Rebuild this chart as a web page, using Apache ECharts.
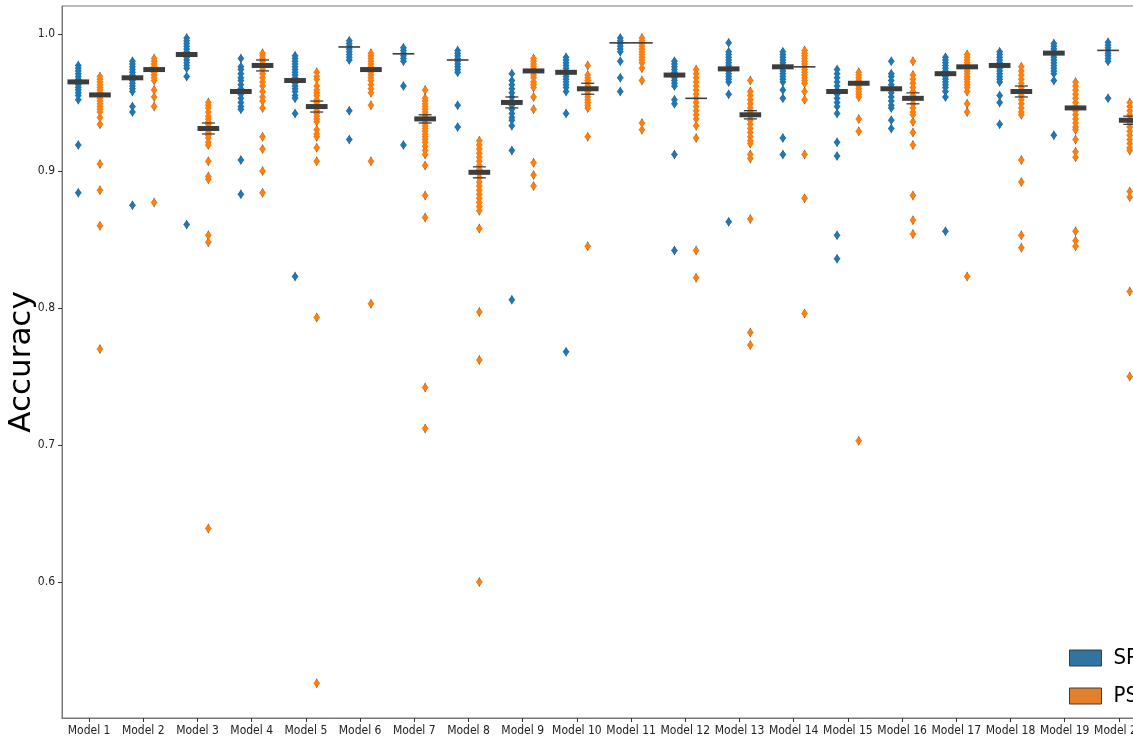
<!DOCTYPE html>
<html>
<head>
<meta charset="utf-8">
<script src="https://cdn.jsdelivr.net/npm/echarts@6/dist/echarts.min.js"></script>
<style>
  html, body { margin: 0; padding: 0; background: #fff; }
  #chart { width: 1133px; height: 739px; }
</style>
</head>
<body>
<div id="chart"></div>
<script>
// categories
const models = ['Model 1', 'Model 2', 'Model 3', 'Model 4', 'Model 5', 'Model 6', 'Model 7', 'Model 8', 'Model 9', 'Model 10',
  'Model 11', 'Model 12', 'Model 13', 'Model 14', 'Model 15', 'Model 16', 'Model 17', 'Model 18', 'Model 19', 'Model 20']
const yTicks = [0.6, 0.7, 0.8, 0.9, 1.0]

// SP accuracies per model
const spPoints = [
  [0.977, 0.975, 0.973, 0.971, 0.969, 0.967, 0.965, 0.963, 0.961, 0.959, 0.957, 0.955, 0.952, 0.919, 0.884],
  [0.980, 0.978, 0.976, 0.974, 0.972, 0.970, 0.968, 0.966, 0.964, 0.962, 0.960, 0.958, 0.947, 0.943, 0.875],
  [0.997, 0.995, 0.993, 0.991, 0.989, 0.987, 0.985, 0.983, 0.981, 0.979, 0.977, 0.975, 0.969, 0.861],
  [0.982, 0.976, 0.974, 0.971, 0.968, 0.966, 0.963, 0.960, 0.958, 0.956, 0.953, 0.950, 0.947, 0.945, 0.908, 0.883],
  [0.984, 0.982, 0.980, 0.978, 0.976, 0.974, 0.972, 0.970, 0.968, 0.966, 0.964, 0.962, 0.960, 0.958, 0.955, 0.953, 0.942, 0.823],
  [0.995, 0.993, 0.991, 0.989, 0.987, 0.985, 0.983, 0.981, 0.944, 0.923],
  [0.990, 0.988, 0.986, 0.984, 0.982, 0.980, 0.962, 0.919],
  [0.988, 0.986, 0.984, 0.982, 0.980, 0.978, 0.976, 0.974, 0.972, 0.948, 0.932],
  [0.971, 0.966, 0.963, 0.960, 0.957, 0.954, 0.951, 0.948, 0.945, 0.942, 0.939, 0.937, 0.933, 0.915, 0.806],
  [0.983, 0.981, 0.979, 0.977, 0.975, 0.973, 0.971, 0.969, 0.967, 0.965, 0.963, 0.961, 0.958, 0.942, 0.768],
  [0.997, 0.995, 0.993, 0.991, 0.989, 0.987, 0.980, 0.968, 0.958],
  [0.980, 0.978, 0.976, 0.974, 0.972, 0.970, 0.968, 0.966, 0.964, 0.962, 0.952, 0.949, 0.912, 0.842],
  [0.9935, 0.987, 0.985, 0.983, 0.981, 0.979, 0.977, 0.975, 0.973, 0.971, 0.969, 0.967, 0.965, 0.956, 0.863],
  [0.987, 0.985, 0.983, 0.981, 0.979, 0.977, 0.975, 0.973, 0.971, 0.969, 0.967, 0.965, 0.959, 0.953, 0.924, 0.912],
  [0.974, 0.971, 0.968, 0.965, 0.962, 0.959, 0.956, 0.953, 0.950, 0.947, 0.942, 0.921, 0.911, 0.853, 0.836],
  [0.980, 0.971, 0.969, 0.966, 0.963, 0.960, 0.957, 0.954, 0.951, 0.948, 0.946, 0.937, 0.931],
  [0.983, 0.981, 0.979, 0.977, 0.975, 0.973, 0.971, 0.969, 0.967, 0.965, 0.963, 0.961, 0.958, 0.954, 0.856],
  [0.987, 0.985, 0.983, 0.981, 0.979, 0.977, 0.975, 0.973, 0.971, 0.969, 0.967, 0.965, 0.955, 0.950, 0.934],
  [0.993, 0.991, 0.989, 0.987, 0.985, 0.983, 0.981, 0.979, 0.977, 0.975, 0.973, 0.971, 0.966, 0.926],
  [0.994, 0.992, 0.990, 0.988, 0.986, 0.984, 0.982, 0.980, 0.953]
]

// PS accuracies per model
const psPoints = [
  [0.969, 0.967, 0.965, 0.963, 0.961, 0.959, 0.957, 0.955, 0.953, 0.951, 0.949, 0.947, 0.945, 0.943, 0.939, 0.934, 0.905, 0.886, 0.860, 0.770],
  [0.982, 0.980, 0.978, 0.976, 0.974, 0.972, 0.970, 0.968, 0.966, 0.959, 0.954, 0.947, 0.877],
  [0.950, 0.948, 0.946, 0.943, 0.940, 0.938, 0.936, 0.934, 0.932, 0.930, 0.928, 0.926, 0.924, 0.921, 0.919, 0.907, 0.896, 0.894, 0.853, 0.848, 0.639],
  [0.986, 0.984, 0.982, 0.980, 0.978, 0.976, 0.974, 0.971, 0.968, 0.965, 0.962, 0.958, 0.954, 0.951, 0.946, 0.925, 0.916, 0.900, 0.884],
  [0.972, 0.969, 0.967, 0.962, 0.959, 0.957, 0.955, 0.952, 0.950, 0.948, 0.946, 0.944, 0.942, 0.940, 0.938, 0.936, 0.930, 0.927, 0.925, 0.917, 0.907, 0.793, 0.526],
  [0.986, 0.984, 0.982, 0.980, 0.978, 0.976, 0.974, 0.972, 0.970, 0.968, 0.966, 0.963, 0.960, 0.957, 0.948, 0.907, 0.803],
  [0.959, 0.953, 0.951, 0.949, 0.947, 0.945, 0.943, 0.941, 0.939, 0.937, 0.935, 0.933, 0.931, 0.929, 0.927, 0.925, 0.923, 0.921, 0.918, 0.915, 0.912, 0.904, 0.882, 0.866, 0.742, 0.712],
  [0.922, 0.919, 0.916, 0.913, 0.910, 0.907, 0.904, 0.901, 0.898, 0.895, 0.892, 0.889, 0.886, 0.883, 0.880, 0.877, 0.874, 0.871, 0.858, 0.797, 0.762, 0.600],
  [0.982, 0.980, 0.978, 0.976, 0.974, 0.972, 0.970, 0.968, 0.965, 0.963, 0.961, 0.954, 0.945, 0.906, 0.897, 0.889],
  [0.977, 0.970, 0.968, 0.966, 0.964, 0.962, 0.960, 0.958, 0.956, 0.954, 0.952, 0.950, 0.948, 0.946, 0.925, 0.845],
  [0.997, 0.995, 0.993, 0.991, 0.989, 0.987, 0.985, 0.983, 0.981, 0.979, 0.975, 0.966, 0.935, 0.930],
  [0.974, 0.971, 0.968, 0.965, 0.962, 0.959, 0.956, 0.953, 0.950, 0.947, 0.944, 0.941, 0.938, 0.933, 0.924, 0.842, 0.822],
  [0.966, 0.958, 0.955, 0.952, 0.949, 0.946, 0.943, 0.940, 0.937, 0.934, 0.931, 0.928, 0.925, 0.922, 0.920, 0.912, 0.909, 0.865, 0.782, 0.773],
  [0.988, 0.986, 0.984, 0.982, 0.980, 0.978, 0.976, 0.974, 0.972, 0.970, 0.968, 0.966, 0.964, 0.958, 0.952, 0.912, 0.880, 0.796],
  [0.972, 0.970, 0.968, 0.966, 0.964, 0.962, 0.960, 0.958, 0.956, 0.954, 0.938, 0.929, 0.703],
  [0.980, 0.970, 0.967, 0.964, 0.961, 0.958, 0.955, 0.952, 0.949, 0.946, 0.943, 0.941, 0.936, 0.928, 0.919, 0.882, 0.864, 0.854],
  [0.985, 0.983, 0.981, 0.979, 0.977, 0.975, 0.973, 0.971, 0.969, 0.967, 0.965, 0.963, 0.961, 0.958, 0.949, 0.943, 0.823],
  [0.976, 0.973, 0.970, 0.967, 0.964, 0.961, 0.958, 0.955, 0.952, 0.949, 0.946, 0.943, 0.941, 0.908, 0.892, 0.853, 0.844],
  [0.965, 0.962, 0.959, 0.956, 0.953, 0.950, 0.947, 0.944, 0.941, 0.938, 0.935, 0.932, 0.930, 0.923, 0.914, 0.910, 0.856, 0.849, 0.845],
  [0.950, 0.947, 0.944, 0.941, 0.938, 0.935, 0.932, 0.929, 0.926, 0.923, 0.920, 0.917, 0.915, 0.885, 0.881, 0.812, 0.750]
]

// medians, whether the central box is visible as a thick bar, and the next letter-value edges
const spMedian = [0.965, 0.968, 0.985, 0.958, 0.966, 0.9905, 0.9855, 0.981, 0.950, 0.972,
  0.9935, 0.970, 0.9745, 0.976, 0.958, 0.960, 0.971, 0.977, 0.986, 0.988]
const psMedian = [0.9555, 0.974, 0.931, 0.977, 0.947, 0.974, 0.938, 0.899, 0.973, 0.960,
  0.9935, 0.953, 0.941, 0.976, 0.964, 0.953, 0.976, 0.958, 0.946, 0.937]
const spThick = [1, 1, 1, 1, 1, 0, 0, 0, 1, 1, 0, 1, 1, 1, 1, 1, 1, 1, 1, 0]
const psThick = [1, 1, 1, 1, 1, 1, 1, 1, 1, 1, 0, 0, 1, 0, 1, 1, 1, 1, 1, 1]
const spLevel = [null, null, null, null, null, null, null, null, [0.954, 0.946], null,
  null, null, null, null, null, null, null, null, null, null]
const psLevel = [null, null, [0.935, 0.927], [0.981, 0.973], [0.951, 0.943], null, [0.941, 0.935], [0.903, 0.895], null, [0.964, 0.956],
  null, null, [0.944, 0.938], null, null, [0.957, 0.949], null, [0.962, 0.954], null, [0.940, 0.934]]

const SP_COLOR = '#1f77b4'
const PS_COLOR = '#ff7f0e'
const EDGE = '#3d3d3d'
const HUE_OFFSET = 0.2
const TICK_FONT = '"DejaVu Sans Condensed", "DejaVu Sans", sans-serif'

const toPoints = (groups, off) => {
  const out = []
  groups.forEach((vals, i) => vals.forEach(v => out.push([i + off, v])))
  return out
}
const toBoxes = (med, thick, level, off) => med.map((m, i) => [
  i + off, m, thick[i], level[i] ? level[i][0] : NaN, level[i] ? level[i][1] : NaN
])

const renderBox = (params, api) => {
  const c = api.coord([api.value(0), api.value(1)])
  const halfW = api.size([0.4, 0])[0] / 2
  const children = []
  if (api.value(2)) {
    children.push({ type: 'rect', shape: { x: c[0] - halfW, y: c[1] - 2.5, width: halfW * 2, height: 5 }, style: { fill: EDGE } })
  } else {
    children.push({ type: 'line', shape: { x1: c[0] - halfW, y1: c[1], x2: c[0] + halfW, y2: c[1] }, style: { stroke: EDGE, lineWidth: 1.6 } })
  }
  const hi = api.value(3), lo = api.value(4)
  if (!isNaN(hi)) {
    [hi, lo].forEach(v => {
      const p = api.coord([api.value(0), v])
      children.push({ type: 'line', shape: { x1: p[0] - halfW * 0.6, y1: p[1], x2: p[0] + halfW * 0.6, y2: p[1] }, style: { stroke: EDGE, lineWidth: 1.3 } })
    })
  }
  return { type: 'group', children }
}

const chart = echarts.init(document.getElementById('chart'), null, { renderer: 'canvas' })

const pointSeries = (name, data, color) => [
  {
    name: name + '_edge', type: 'scatter', data, symbol: 'diamond', symbolSize: [5, 10],
    itemStyle: { color: EDGE, opacity: 1 }, z: 2, silent: true
  },
  {
    name, type: 'scatter', data, symbol: 'diamond', symbolSize: [7, 8],
    itemStyle: { color, opacity: 1 }, z: 3
  }
]

chart.setOption({
  animation: false,
  textStyle: { fontFamily: 'DejaVu Sans' },
  grid: {
    left: 62, top: 6, width: 1084, height: 712, outerBoundsMode: 'none', containLabel: false,
    show: true, borderColor: '#777', borderWidth: 1, backgroundColor: 'transparent'
  },
  legend: {
    data: [
      { name: 'SP', itemStyle: { color: '#3274a1', borderColor: EDGE, borderWidth: 1, opacity: 1 } },
      { name: 'PS', itemStyle: { color: '#e1812c', borderColor: EDGE, borderWidth: 1, opacity: 1 } }
    ],
    orient: 'vertical',
    left: 1069,
    top: 647,
    padding: 0,
    icon: 'rect',
    itemWidth: 32,
    itemHeight: 16,
    itemGap: 16,
    textStyle: { fontSize: 22, color: '#000', fontFamily: TICK_FONT, padding: [0, 0, 0, 7] }
  },
  xAxis: {
    type: 'value',
    min: -0.5,
    max: 19.5,
    splitLine: { show: false },
    axisLine: { show: true, onZero: false, lineStyle: { color: '#777' } },
    axisTick: { show: true, length: 4, customValues: models.map((m, i) => i), lineStyle: { color: '#333' } },
    axisLabel: {
      customValues: models.map((m, i) => i), formatter: v => models[Math.round(v)],
      fontSize: 12, fontFamily: TICK_FONT, color: '#222', margin: 7
    }
  },
  yAxis: {
    type: 'value',
    min: 0.5007,
    max: 1.0204,
    name: 'Accuracy',
    nameLocation: 'middle',
    nameGap: 25,
    nameMoveOverlap: false,
    nameTextStyle: { fontSize: 31, color: '#000' },
    splitLine: { show: false },
    axisLine: { show: true, onZero: false, lineStyle: { color: '#777' } },
    axisTick: { show: true, length: 4, customValues: yTicks, lineStyle: { color: '#333' } },
    axisLabel: { customValues: yTicks, formatter: v => v.toFixed(1), fontSize: 12, fontFamily: TICK_FONT, color: '#222', margin: 7 }
  },
  series: [
    ...pointSeries('SP', toPoints(spPoints, -HUE_OFFSET), SP_COLOR),
    ...pointSeries('PS', toPoints(psPoints, HUE_OFFSET), PS_COLOR),
    { name: 'spBox', type: 'custom', renderItem: renderBox, data: toBoxes(spMedian, spThick, spLevel, -HUE_OFFSET), z: 5, silent: true },
    { name: 'psBox', type: 'custom', renderItem: renderBox, data: toBoxes(psMedian, psThick, psLevel, HUE_OFFSET), z: 5, silent: true }
  ]
})
</script>
</body>
</html>
